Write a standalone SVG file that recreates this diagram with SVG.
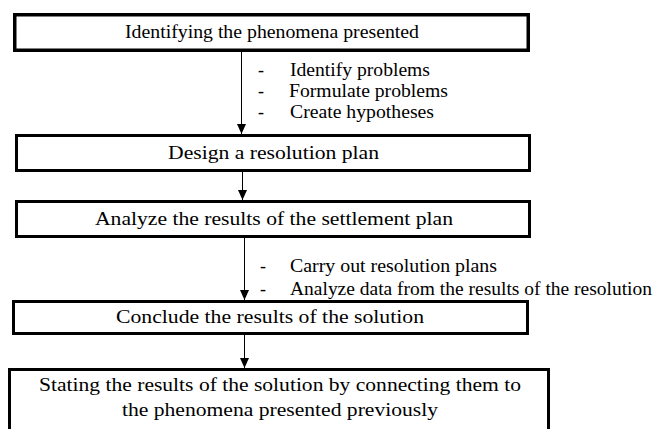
<svg xmlns="http://www.w3.org/2000/svg" width="659" height="429" viewBox="0 0 659 429">
<style>
.box{fill:#fff;stroke:#000;stroke-width:3}
text{font-family:'Liberation Serif','Times New Roman',serif;font-size:18px;fill:#000}
.big{font-size:19.5px}
.conn{stroke:#000;stroke-width:1;fill:none}
</style>
<defs>
<marker id="ah" markerWidth="10" markerHeight="10" refX="10" refY="5" orient="auto" markerUnits="userSpaceOnUse">
<path d="M0,0.5 L10,5 L0,9.5 Z" fill="#000"/>
</marker>
</defs>
<rect width="659" height="429" fill="#fff"/>
<g id="connectors">
<line class="conn" x1="241.5" y1="52" x2="241.5" y2="134" marker-end="url(#ah)"/>
<line class="conn" x1="242.5" y1="172" x2="242.5" y2="200" marker-end="url(#ah)"/>
<line class="conn" x1="244.5" y1="238" x2="244.5" y2="300" marker-end="url(#ah)"/>
<line class="conn" x1="244.5" y1="335" x2="244.5" y2="368" marker-end="url(#ah)"/>
</g>
<g id="labels1">
<text x="258" y="76">-</text>
<text x="290" y="76" textLength="140" lengthAdjust="spacingAndGlyphs">Identify problems</text>
<text x="258" y="97">-</text>
<text x="289" y="97" textLength="159" lengthAdjust="spacingAndGlyphs">Formulate problems</text>
<text x="258" y="118">-</text>
<text x="290" y="118" textLength="144" lengthAdjust="spacingAndGlyphs">Create hypotheses</text>
</g>
<g id="labels2">
<text x="260" y="272">-</text>
<text x="290" y="272" textLength="207" lengthAdjust="spacingAndGlyphs">Carry out resolution plans</text>
<text x="260" y="295">-</text>
<text x="290" y="295" textLength="362" lengthAdjust="spacingAndGlyphs">Analyze data from the results of the resolution</text>
</g>
<g id="n1">
<rect class="box" x="14.75" y="14.75" width="513.5" height="35.5" style="stroke-width:3.5"/>
<text x="125" y="38" textLength="294" lengthAdjust="spacingAndGlyphs">Identifying the phenomena presented</text>
</g>
<g id="n2">
<rect class="box" x="16.5" y="135.5" width="513" height="35"/>
<text class="big" x="168" y="159" textLength="211" lengthAdjust="spacingAndGlyphs">Design a resolution plan</text>
</g>
<g id="n3">
<rect class="box" x="16.5" y="201.5" width="513" height="35"/>
<text class="big" x="95" y="225" textLength="358" lengthAdjust="spacingAndGlyphs">Analyze the results of the settlement plan</text>
</g>
<g id="n4">
<rect class="box" x="13.5" y="301.5" width="514" height="32"/>
<text class="big" x="116" y="323" textLength="308" lengthAdjust="spacingAndGlyphs">Conclude the results of the solution</text>
</g>
<g id="n5">
<rect class="box" x="9.5" y="369.5" width="539" height="80"/>
<text class="big" x="39" y="391" textLength="482" lengthAdjust="spacingAndGlyphs">Stating the results of the solution by connecting them to</text>
<text class="big" x="122" y="416" textLength="316" lengthAdjust="spacingAndGlyphs">the phenomena presented previously</text>
</g>
</svg>
